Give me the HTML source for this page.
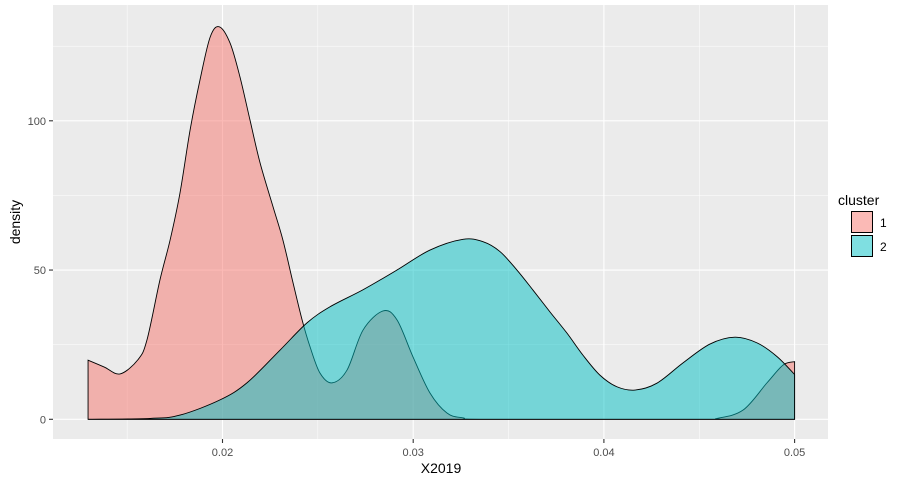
<!DOCTYPE html>
<html><head><meta charset="utf-8"><style>
body{margin:0;background:#fff;font-family:"Liberation Sans",sans-serif;}
svg text{font-family:"Liberation Sans",sans-serif;}
</style></head><body>
<svg id="chart" width="909" height="484">
<rect x="53" y="5" width="775" height="434" fill="#EBEBEB"/>
<g id="grid"></g>
<g id="areas"></g>
<g id="axes"></g>
<text x="441" y="473" font-size="14" fill="#000" text-anchor="middle">X2019</text>
<text transform="translate(20,222) rotate(-90)" font-size="14" fill="#000" text-anchor="middle">density</text>
<g>
<text x="838" y="205" font-size="14" fill="#000">cluster</text>
<g>
<rect x="851.5" y="211.5" width="21" height="21" fill="#F8766D" fill-opacity="0.5" stroke="#000" stroke-width="1"/>
<text x="880" y="227" font-size="12" fill="#000">1</text></g>
<g>
<rect x="851.5" y="235.5" width="21" height="21" fill="#00BFC4" fill-opacity="0.5" stroke="#000" stroke-width="1"/>
<text x="880" y="251" font-size="12" fill="#000">2</text></g>
</g>
</svg>
<script>
const xTicks=[0.02,0.03,0.04,0.05];
const xTickLabels=["0.02","0.03","0.04","0.05"];
const yTicks=[0,50,100];
const yTickLabels=["0","50","100"];
const c1x=[0.01295,0.0138,0.01463,0.01557,0.01604,0.01672,0.01725,0.01777,0.0183,0.01882,0.01935,0.01983,0.0204,0.02092,0.02144,0.02197,0.02265,0.02317,0.0237,0.02417,0.02459,0.02511,0.02574,0.02653,0.02737,0.02842,0.02915,0.02999,0.03088,0.03177,0.0326,0.034,0.045,0.04593,0.0473,0.04855,0.0494,0.0500];
const c1y=[19.8,17.5,15.2,20,26.6,46.7,60,75.8,96.9,113.7,128,131.5,126,114.6,100.3,85.9,71.2,60,45.7,33.4,24.3,15.5,12.2,16.5,29.9,36.3,33.3,20.9,8.8,2.1,0.5,0,0,0.3,3.1,12.2,18.2,19.3];
const c2x=[0.01295,0.0162,0.01777,0.01987,0.02128,0.02302,0.02443,0.02564,0.02737,0.02915,0.03088,0.03261,0.03366,0.03455,0.03544,0.03628,0.03717,0.03806,0.0389,0.03979,0.04068,0.04163,0.04278,0.04415,0.04556,0.04687,0.04803,0.04908,0.0500];
const c2y=[0,0.3,1.4,6.5,12.2,23.2,32.3,37.7,43.4,50,56.7,60.3,59.5,56.2,50,43.3,36,28.9,21.5,14.8,10.9,9.8,12.1,18.9,25.2,27.5,25.6,21,15];
const X=v=>222.5+(v-0.02)*19070;
const Y=v=>419.3-v*2.985;
const ns="http://www.w3.org/2000/svg";
function mk(t,a,p){const e=document.createElementNS(ns,t);for(const k in a)e.setAttribute(k,a[k]);p.appendChild(e);return e;}
const grid=document.getElementById('grid'),axes=document.getElementById('axes'),areas=document.getElementById('areas');
const minorX=[0.015,0.025,0.035,0.045],minorY=[25,75,125];
minorX.forEach(v=>{const l=mk('line',{x1:X(v),x2:X(v),y1:5,y2:439,stroke:'#fff','stroke-width':0.5},grid);

});
minorY.forEach(v=>{const l=mk('line',{x1:53,x2:828,y1:Y(v),y2:Y(v),stroke:'#fff','stroke-width':0.5},grid);

});
xTicks.forEach((v,i)=>{const l=mk('line',{x1:X(v),x2:X(v),y1:5,y2:439,stroke:'#fff','stroke-width':1.1},grid);


const t=mk('line',{x1:X(v),x2:X(v),y1:439,y2:443,stroke:'#333','stroke-width':1.1},axes);


const tx=mk('text',{x:X(v),y:456,'font-size':11,fill:'#4D4D4D','text-anchor':'middle'},axes);tx.textContent=xTickLabels[i];

});
yTicks.forEach((v,i)=>{const l=mk('line',{x1:53,x2:828,y1:Y(v),y2:Y(v),stroke:'#fff','stroke-width':1.1},grid);


const t=mk('line',{x1:49,x2:53,y1:Y(v),y2:Y(v),stroke:'#333','stroke-width':1.1},axes);


const tx=mk('text',{x:46,y:Y(v)+4,'font-size':11,fill:'#4D4D4D','text-anchor':'end'},axes);tx.textContent=yTickLabels[i];

});
function area(xs,ys,col,name){
 const P=xs.map((x,i)=>[X(x),Y(ys[i])]);
 let d=`M${P[0][0]},${Y(0)} L${P[0][0]},${P[0][1]}`;
 for(let i=0;i<P.length-1;i++){const p0=P[i-1]||P[i],p1=P[i],p2=P[i+1],p3=P[i+2]||P[i+1];
  const c1=[p1[0]+(p2[0]-p0[0])/6,p1[1]+(p2[1]-p0[1])/6],c2=[p2[0]-(p3[0]-p1[0])/6,p2[1]-(p3[1]-p1[1])/6];
  d+=` C${c1[0]},${Math.min(c1[1],Y(0))} ${c2[0]},${Math.min(c2[1],Y(0))} ${p2[0]},${p2[1]}`;}
 d+=` L${P[P.length-1][0]},${Y(0)} Z`;
 const e=mk('path',{d:d,fill:col,'fill-opacity':0.5,stroke:'#000','stroke-width':0.9},areas);
 
 }
area(c1x,c1y,'#F8766D','density-cluster-1');
area(c2x,c2y,'#00BFC4','density-cluster-2');
</script>
</body></html>
